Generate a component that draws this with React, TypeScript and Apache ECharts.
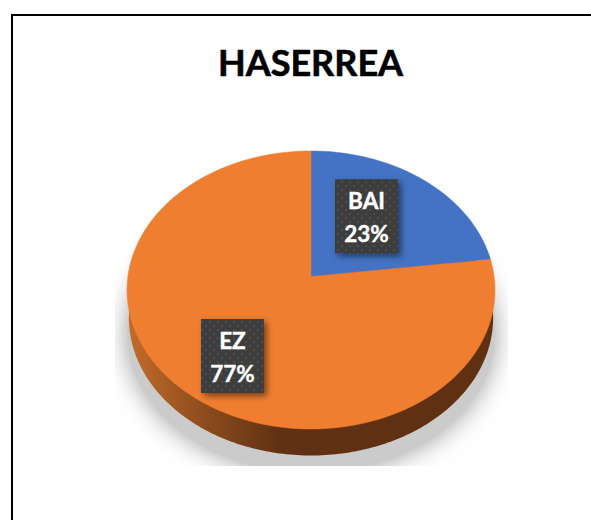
import React, { useEffect, useRef } from "react";
import * as echarts from "echarts";

const titleText = "HASERREA";
const categories = ["BAI", "EZ"];
const values = [23, 77];
const sliceColors = ["#4472C4", "#F07E30"];
const percentLabels = ["23%", "77%"];
const labelRadius = [0.4745, 0.6196];
const labelShift = [-13, 12.5];

const CX = 311, CY = 276.5, RX = 183.1, RY = 137.7, K = 0.0971;
const total = values.reduce((a, b) => a + b, 0);

// perspective projection of a point on the tilted pie's unit disc
const project = (deg: number, f = 1, scale = 1, dy = 0) => {
  const t = (deg * Math.PI) / 180;
  const u = Math.sin(t) * f, v = Math.cos(t) * f;
  const w = 1 + K * v;
  return [CX + (RX * scale * u) / w, CY + dy - (RY * scale * v) / w];
};
const ring = (scale: number, dy: number) => {
  const pts: number[][] = [];
  for (let a = 0; a < 360; a += 1) pts.push(project(a, 1, scale, dy));
  return pts;
};
const startAngle = (i: number) =>
  (values.slice(0, i).reduce((a, b) => a + b, 0) / total) * 360;

function makePattern() {
  const c = document.createElement("canvas");
  c.width = 8; c.height = 8;
  const g = c.getContext("2d")!;
  g.fillStyle = "#3C3C3C";
  g.fillRect(0, 0, 8, 8);
  g.fillStyle = "#4E4E4E";
  g.fillRect(1, 1, 2, 2);
  g.fillRect(5, 5, 2, 2);
  return c;
}

export default function App() {
  const ref = useRef<HTMLDivElement>(null);
  useEffect(() => {
    document.body.style.margin = "0";
    const chart = echarts.init(ref.current!, undefined, { renderer: "svg" });
    const pattern = makePattern();
    chart.setOption({
      animation: false,
      backgroundColor: "#fff",
      title: {
        text: titleText,
        left: 305.5,
        top: 39,
        textAlign: "center",
        textStyle: {
          fontFamily: "Lato",
          fontWeight: "bold",
          fontSize: 36,
          color: "#000",
          textBorderColor: "#000",
          textBorderWidth: 0.6,
        },
      },
      graphic: [
        {
          type: "rect",
          z: 100,
          silent: true,
          shape: { x: 12, y: 15, width: 800, height: 800 },
          style: { fill: "none", stroke: "#000", lineWidth: 2 },
        },
      ],
      series: [
        {
          type: "custom",
          coordinateSystem: "none",
          silent: true,
          z: 1,
          data: [total],
          renderItem: () => ({
            type: "group",
            children: [
              {
                type: "polygon",
                shape: { points: ring(1.0, 44) },
                style: {
                  fill: "#CBCBCB",
                  shadowBlur: 26,
                  shadowColor: "rgba(150,150,150,0.95)",
                },
              },
              {
                type: "rect",
                shape: { x: 20, y: 466, width: 571, height: 54 },
                style: { fill: "#fff" },
              },
              {
                type: "rect",
                shape: { x: 20, y: 200, width: 95, height: 280 },
                style: { fill: "#fff" },
              },
              {
                type: "rect",
                shape: { x: 508, y: 200, width: 83, height: 280 },
                style: { fill: "#fff" },
              },
              {
                type: "polygon",
                shape: { points: ring(0.99, 28) },
                style: {
                  fill: new echarts.graphic.LinearGradient(0, 0, 1, 0, [
                    { offset: 0, color: "#C26C2B" },
                    { offset: 0.2, color: "#8F4D1E" },
                    { offset: 0.42, color: "#5F3012" },
                    { offset: 1, color: "#5F3012" },
                  ]),
                },
              },
            ],
          }),
        },
        {
          type: "custom",
          coordinateSystem: "none",
          silent: true,
          z: 2,
          data: values,
          renderItem: (p: any) => {
            const i = p.dataIndex;
            const a0 = startAngle(i);
            const a1 = a0 + (values[i] / total) * 360;
            const pts: number[][] = [project(0, 0)];
            for (let a = a0; a < a1; a += 1) pts.push(project(a));
            pts.push(project(a1));
            return {
              type: "polygon",
              shape: { points: pts },
              style: { fill: sliceColors[i], stroke: sliceColors[i], lineWidth: 0.5 },
            };
          },
        },
        {
          type: "custom",
          coordinateSystem: "none",
          silent: true,
          z: 3,
          data: categories,
          renderItem: (p: any) => {
            const i = p.dataIndex;
            const mid = startAngle(i) + (values[i] / total) * 180;
            const [x, y0] = project(mid, labelRadius[i]);
            const y = y0 + labelShift[i];
            const textStyle = {
              fill: "#fff",
              stroke: "#fff",
              lineWidth: 0.4,
              fontFamily: "Lato",
              fontWeight: "bold",
              fontSize: 22.5,
              align: "center",
              verticalAlign: "middle",
            };
            return {
              type: "group",
              children: [
                {
                  type: "rect",
                  shape: { x: x - 31.5, y: y - 37, width: 63, height: 74 },
                  style: {
                    fill: { image: pattern, repeat: "repeat" },
                    shadowBlur: 6,
                    shadowOffsetX: 3,
                    shadowOffsetY: 3,
                    shadowColor: "rgba(0,0,0,0.5)",
                  },
                },
                { type: "text", x, y: y - 16, style: { ...textStyle, text: categories[i] } },
                { type: "text", x, y: y + 17, style: { ...textStyle, text: percentLabels[i] } },
              ],
            };
          },
        },
      ],
    });
    return () => chart.dispose();
  }, []);
  return (
    <div
      ref={ref}
      style={{ position: "fixed", left: 0, top: 0, width: 591, height: 520 }}
    />
  );
}
